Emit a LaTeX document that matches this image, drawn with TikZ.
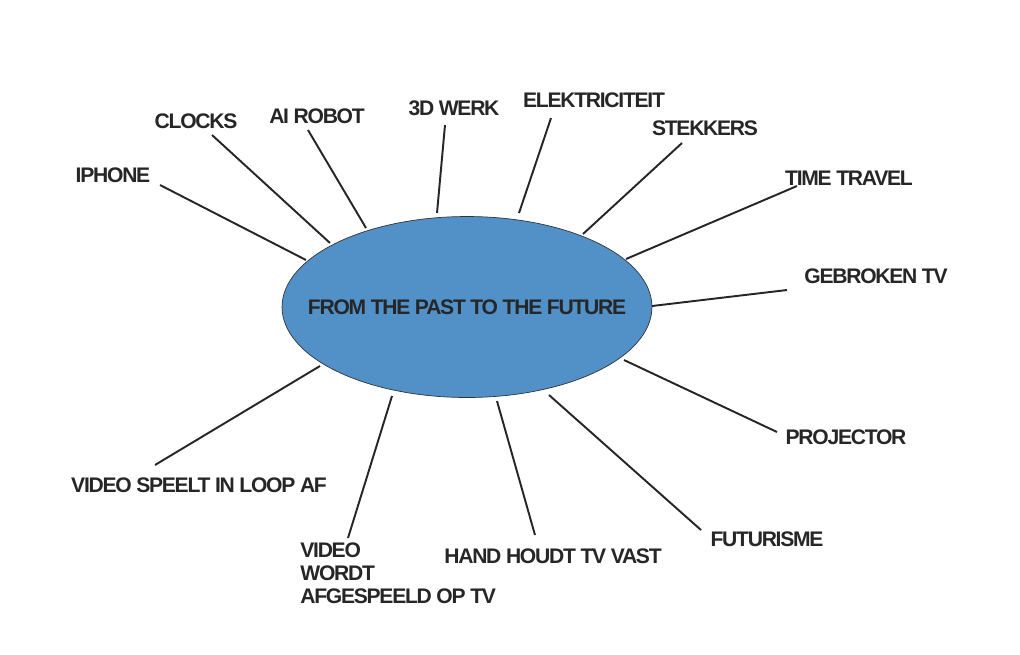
\documentclass[tikz,border=0pt]{standalone}
\usepackage{fontspec}
\setmainfont{Liberation Sans}[LetterSpace=-6]
\usetikzlibrary{positioning,shapes.geometric}
\definecolor{blobblue}{HTML}{5290C8}
\begin{document}
\begin{tikzpicture}[
  x=0.02cm, y=-0.02cm,
  lbl/.style={font=\fontsize{12}{13}\selectfont\bfseries, text=black!85, inner sep=0pt, align=left},
  spoke/.style={line width=1.1pt, black!85}
]
\useasboundingbox (0,0) rectangle (1020,654);

% Centre
\node[ellipse, draw=black!80, fill=blobblue, inner sep=0pt,
  minimum width=7.4cm, minimum height=3.62cm] (hub) at (467,307) {};
\node[lbl] (title) at (hub) {FROM THE PAST TO THE FUTURE};

% Labels
\node[lbl] (iphone) at (113,175) {IPHONE};
\node[lbl] (clocks) at (196,121) {CLOCKS};
\node[lbl] (robot) at (317,116) {AI ROBOT};
\node[lbl] (werk) at (454,108) {3D WERK};
\node[lbl] (elek) at (594,100) {ELEKTRICITEIT};
\node[lbl] (stek) at (705,128) {STEKKERS};
\node[lbl] (time) at (849,178) {TIME TRAVEL};
\node[lbl] (tv) at (876,276) {GEBROKEN TV};
\node[lbl] (proj) at (846,437) {PROJECTOR};
\node[lbl] (futur) at (767,539) {FUTURISME};
\node[lbl] (hand) at (553,556) {HAND HOUDT TV VAST};
\node[lbl, anchor=north west, font=\fontsize{12}{13.3}\selectfont\bfseries] (afgesp) at (300,542) {VIDEO\\WORDT\\AFGESPEELD OP TV};
\node[lbl] (loop) at (199,485) {VIDEO SPEELT IN LOOP AF};

% Spokes
\foreach \a/\b/\c/\d in {160/185/306/260, 212/135/330/243, 308/130/366/228, 445/125/437/213,
  551/118/519/213, 682/143/583/234, 797/186/626/259, 787/290/652/306, 777/432/624/360,
  701/530/549/395, 535/535/497/401, 348/538/392/396, 155/465/320/366}
  \draw[spoke] (\a,\b) coordinate (s) -- (\c,\d) coordinate (e);

\end{tikzpicture}
\end{document}
